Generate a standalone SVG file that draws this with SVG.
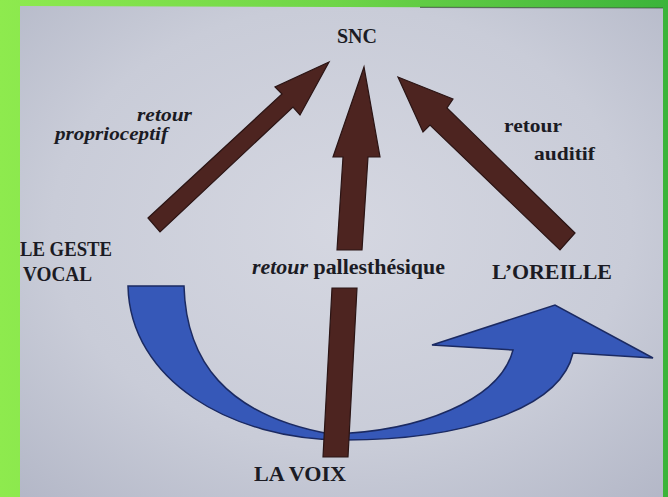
<svg xmlns="http://www.w3.org/2000/svg" width="668" height="497" viewBox="0 0 668 497">
  <defs>
    <linearGradient id="greenGrad" x1="0" y1="0" x2="1" y2="0">
      <stop offset="0" stop-color="#8eea4e"/>
      <stop offset="0.5" stop-color="#6fd548"/>
      <stop offset="1" stop-color="#3bb43a"/>
    </linearGradient>
    <radialGradient id="slideGrad" cx="0.5" cy="0.45" r="0.75">
      <stop offset="0" stop-color="#d5d7e1"/>
      <stop offset="0.6" stop-color="#c9ccd8"/>
      <stop offset="1" stop-color="#b3b7c7"/>
    </radialGradient>
    <style>
      .lbl { font-family: "Liberation Serif", "Times New Roman", serif; font-weight: bold; fill: #1b1b24; }
      .it { font-style: italic; }
      .brown { fill: #4d2420; stroke: #2a1414; stroke-width: 1.2; stroke-linejoin: miter; }
      .blue { fill: #3658b8; stroke: #1b2a62; stroke-width: 1.5; stroke-linejoin: miter; }
    </style>
  </defs>

  <!-- background: green frame and slide -->
  <rect x="0" y="0" width="668" height="497" fill="url(#greenGrad)"/>
  <polygon points="20,6 663,8 663,497 20,497" fill="url(#slideGrad)"/>
  <line x1="420" y1="7.3" x2="663" y2="8" stroke="#2a3a2a" stroke-width="1.2" opacity="0.6"/>

  <!-- connectors -->
  <g id="connectors">
    <path id="blue-swoosh" class="blue" d="M128,286 L184,286 C186,360 225,415 330,434 C420,432 500,400 513,350 L432,345 L555,305 L653,358 L573,353 C560,410 460,440 345,440 C230,440 130,380 128,286 Z"/>
    <polygon id="arrow-proprio" class="brown" points="148,218 282,94 275,87 329,62 300,115 293,107 160,232"/>
    <polygon id="arrow-pallesth" class="brown" points="337,250 343,157 333,157 364,67 380,157 368,157 362,250"/>
    <polygon id="shaft-voix" class="brown" points="332,288 357,288 348,457 323,457"/>
    <polygon id="arrow-auditif" class="brown" points="575,233 447,108 453,99 398,77 423,132 430,125 560,250"/>
  </g>

  <!-- nodes -->
  <g id="node-snc">
    <text class="lbl" x="337" y="43" font-size="20" textLength="40" lengthAdjust="spacingAndGlyphs">SNC</text>
  </g>
  <g id="node-geste">
    <text class="lbl" x="20" y="256" font-size="20" textLength="92" lengthAdjust="spacingAndGlyphs">LE GESTE</text>
    <text class="lbl" x="23" y="281" font-size="20" textLength="69" lengthAdjust="spacingAndGlyphs">VOCAL</text>
  </g>
  <g id="node-oreille">
    <text class="lbl" x="492" y="279" font-size="22" textLength="120" lengthAdjust="spacingAndGlyphs">L’OREILLE</text>
  </g>
  <g id="node-voix">
    <text class="lbl" x="254" y="481" font-size="22" textLength="92" lengthAdjust="spacingAndGlyphs">LA VOIX</text>
  </g>

  <!-- connector labels -->
  <g id="label-proprio">
    <text class="lbl it" x="137" y="121" font-size="19" textLength="55" lengthAdjust="spacingAndGlyphs">retour</text>
    <text class="lbl it" x="55" y="140" font-size="19" textLength="113" lengthAdjust="spacingAndGlyphs">proprioceptif</text>
  </g>
  <g id="label-auditif">
    <text class="lbl" x="504" y="132" font-size="19" textLength="58" lengthAdjust="spacingAndGlyphs">retour</text>
    <text class="lbl" x="534" y="160" font-size="19" textLength="61" lengthAdjust="spacingAndGlyphs">auditif</text>
  </g>
  <g id="label-pallesth">
    <text class="lbl" x="252" y="274" font-size="20" textLength="193" lengthAdjust="spacingAndGlyphs"><tspan class="it">retour</tspan> pallesthésique</text>
  </g>
</svg>
